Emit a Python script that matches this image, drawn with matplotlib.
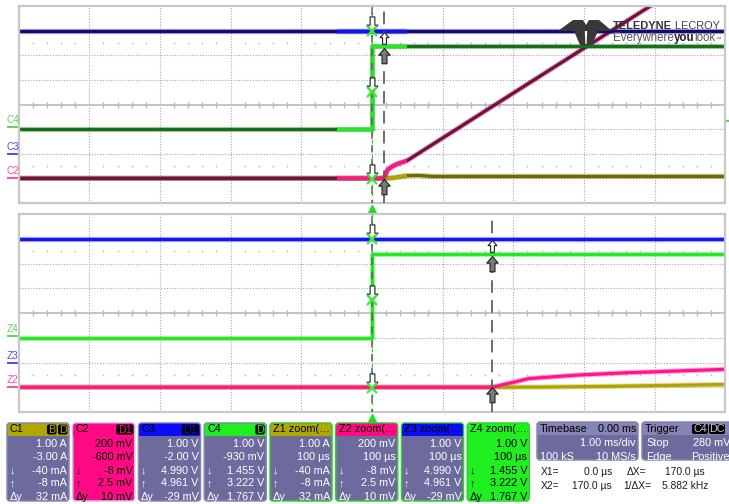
import numpy as np
import matplotlib.pyplot as plt
import matplotlib.transforms as mtransforms
from matplotlib.patches import FancyBboxPatch, Rectangle, Polygon
from matplotlib.path import Path

plt.rcParams['font.family'] = ['Liberation Sans', 'DejaVu Sans']

W, H = 729, 504

# vertical setup of each channel (units/div, offset)
vdiv = {'C1': 1.00, 'C2': 0.200, 'C3': 1.00, 'C4': 1.00}
voff = {'C1': -3.00, 'C2': -0.600, 'C3': -2.00, 'C4': -0.930}

# waveforms as breakpoints: time in ms, value in A or V
c3_t = [-5.0, 5.0]
c3_v = [4.99, 4.99]
c4_t = [-5.0, 0.0, 0.0, 5.0]
c4_v = [-0.07, -0.07, 3.30, 3.30]
c2_t = [-5.0, 0.17, 0.20, 0.222, 0.29, 0.36, 0.50, 1.50, 3.94, 5.0]
c2_v = [0.0, 0.0, 0.04, 0.07, 0.098, 0.117, 0.145, 0.51, 1.40, 1.79]
c1_t = [-5.0, 0.17, 0.25, 0.32, 0.43, 0.50, 0.66, 0.85, 5.0]
c1_v = [0.0, 0.0, 0.01, 0.03, 0.08, 0.11, 0.12, 0.08, 0.08]

# cursors (ms) and the values read at them
x1_ms, x2_ms = 0.0, 0.17
cur1 = {'C1': -0.040, 'C2': -0.008, 'C3': 4.990, 'C4': 1.455}
cur2 = {'C1': -0.008, 'C2': 0.0025, 'C3': 4.961, 'C4': 3.222}
trig_level = 0.280  # V on C4

main_tdiv = 1.0    # ms/div
zoom_tdiv = 0.1    # ms/div

dark = {'C1': '#6f6a00', 'C2': '#7a0c42', 'C3': '#0c0c72', 'C4': '#16701a'}
bright = {'C1': '#ada400', 'C2': '#ff168c', 'C3': '#1414f0', 'C4': '#26e626'}

traces = [('C1', c1_t, c1_v), ('C2', c2_t, c2_v), ('C3', c3_t, c3_v), ('C4', c4_t, c4_v)]


def to_div(ch, v):
    return (np.asarray(v, dtype=float) + voff[ch]) / vdiv[ch]


def arrow_path(up):
    s = -1 if up else 1
    pts = [(0, 0), (0.6, 0.7), (0.26, 0.7), (0.26, 1.6), (-0.26, 1.6),
           (-0.26, 0.7), (-0.6, 0.7), (0, 0)]
    return Path([(x, s * y) for x, y in pts], closed=True)


ARR_DN = arrow_path(False)
ARR_UP = arrow_path(True)

fig = plt.figure(figsize=(W / 100, H / 100), dpi=100)
fig.patch.set_facecolor('white')


def make_panel(top_px, bot_px, tdiv):
    ax = fig.add_axes([18.6 / W, 1 - bot_px / H, 706.7 / W, (bot_px - top_px) / H])
    ax.set_xlim(-5 * tdiv, 5 * tdiv)
    ax.set_ylim(-4, 4)
    ax.set_xticks([])
    ax.set_yticks([])
    for s in ax.spines.values():
        s.set_color('#c8c8c8')
        s.set_linewidth(1.6)
    for i in range(-4, 5):
        if i != 0:
            ax.axvline(i * tdiv, color='#a8a8a8', lw=0.8, ls=(0, (1, 1.5)), zorder=0.5)
    for j in range(-3, 4):
        if j != 0:
            ax.axhline(j, color='#a8a8a8', lw=0.8, ls=(0, (1, 1.5)), zorder=0.5)
    ax.axhline(0, color='#c4c4c4', lw=1.4, zorder=0.6)
    minor = np.arange(-50, 51) * tdiv / 5
    minor = minor[np.abs(np.round(minor / tdiv * 5)) % 5 != 0]
    ax.plot(minor, np.zeros_like(minor), ls='none', marker='|', ms=4,
            mew=1.0, color='#b8b8b8', zorder=0.6)
    for yy in (-2.5, 2.5):
        ax.plot(minor, np.full_like(minor, yy), ls='none', marker='s', ms=1.0,
                mew=0, color='#b0b0b0', zorder=0.6)
    return ax


ax_top = make_panel(6, 203, main_tdiv)
ax_bot = make_panel(214, 412, zoom_tdiv)

# main acquisition: dim outside the zoom window, bright inside it
win = Rectangle((-5 * zoom_tdiv, -4), 10 * zoom_tdiv, 8, transform=ax_top.transData)
for ch, t, v in traces:
    y = to_div(ch, v)
    ax_top.plot(t, y, color=dark[ch], lw=3.8, alpha=0.35, zorder=2, solid_capstyle='butt')
    ax_top.plot(t, y, color=dark[ch], lw=2.3, zorder=2.1, solid_capstyle='butt')
    for lw, a in ((3.8, 0.35), (2.3, 1.0)):
        ln, = ax_top.plot(t, y, color=bright[ch], lw=lw, alpha=a, zorder=2.2,
                          solid_capstyle='butt')
        ln.set_clip_path(win)

# zoom traces
for ch, t, v in traces:
    y = to_div(ch, v)
    ax_bot.plot(t, y, color=bright[ch], lw=3.8, alpha=0.35, zorder=2, solid_capstyle='butt')
    ax_bot.plot(t, y, color=bright[ch], lw=2.3, zorder=2.1, solid_capstyle='butt')

for ax in (ax_top, ax_bot):
    ax.axvline(x1_ms, color='#22dd22', lw=0.9, ls=(0, (3, 3)), zorder=4)
    ax.axvline(x1_ms, color='#606060', lw=1.1, ls=(3, (5, 4)), zorder=4)
    ax.axvline(x2_ms, color='#606060', lw=1.3, ls=(0, (7, 4)), zorder=4)
    for ch in ('C2', 'C4', 'C3'):
        ax.plot(x1_ms, to_div(ch, cur1[ch]), marker=ARR_DN, ms=21, mfc='white',
                mec='#202020', mew=0.8, zorder=6, clip_on=False)
        ax.plot(x1_ms, to_div(ch, cur1[ch]), marker='x', ms=7, mew=1.6,
                color='#33ee33', zorder=7)
    for ch in ('C1', 'C4'):
        ax.plot(x2_ms, to_div(ch, cur2[ch]), marker=ARR_UP, ms=22, mfc='#7a7a7a',
                mec='#202020', mew=0.8, zorder=6, clip_on=False)
    ax.plot(x2_ms, to_div('C3', cur2['C3']), marker=ARR_UP, ms=17, mfc='white',
            mec='#202020', mew=0.8, zorder=6.5, clip_on=False)
    # trigger position marker below the grid
    ax.plot(x1_ms, -4.25, marker='^', ms=5.5, color='#22dd22', mec='#22dd22',
            clip_on=False, zorder=6)

# ground level markers and labels on the left
lab_colors = {'C4': '#5fd35f', 'C3': '#4a4aff', 'C2': '#ff4aa5'}
for ax, prefix in ((ax_top, 'C'), (ax_bot, 'Z')):
    tr = mtransforms.blended_transform_factory(ax.transAxes, ax.transData)
    for ch in ('C4', 'C3', 'C2'):
        y0 = to_div(ch, 0.0)
        ax.plot([-0.015, 0.0], [y0, y0], color=lab_colors[ch], lw=1.4,
                transform=tr, clip_on=False)
        ax.text(-0.0165, y0 + 0.08, prefix + ch[1], color=lab_colors[ch],
                fontsize=7.2, ha='left', va='bottom', transform=tr, clip_on=False)

# trigger level mark on right edge
tr = mtransforms.blended_transform_factory(ax_top.transAxes, ax_top.transData)
ax_top.plot([1.0015, 1.0055], [to_div('C4', trig_level)] * 2, color='#22dd22',
            lw=1.2, transform=tr, clip_on=False)

# overlay in pixel units for logo and readouts
ov = fig.add_axes([0, 0, 1, 1], zorder=10)
ov.set_xlim(0, W)
ov.set_ylim(H, 0)
ov.axis('off')
ov.patch.set_alpha(0)

# logo
logo = [(558, 31), (573, 20), (583, 20), (586, 25), (589, 20), (599, 20), (612, 31),
        (598, 31), (592, 45), (580, 45), (574, 31)]
ov.add_patch(Polygon(logo, closed=True, fc='#383838', ec='none'))
ov.add_patch(Polygon([(584.8, 31), (587.2, 31), (586.6, 44), (585.4, 44)], closed=True,
                     fc='white', ec='none'))

renderer = fig.canvas.get_renderer()


def text_run(x, y, parts):
    # draw pieces of text one after another on the same baseline
    for s, kw in parts:
        t = ov.text(x, y, s, va='baseline', ha='left', **kw)
        bb = t.get_window_extent(renderer)
        x += bb.width


text_run(613, 29, [('TELEDYNE', dict(fontsize=7.9, fontweight='bold', color='#333333')),
                   (' LECROY', dict(fontsize=7.9, color='#454545'))])
text_run(613, 41, [('Everywhere', dict(fontsize=8.3, color='#555555')),
                   ('you', dict(fontsize=8.3, fontweight='bold', color='#222222')),
                   ('look', dict(fontsize=8.3, color='#555555')),
                   ('™', dict(fontsize=4, color='#555555'))])

# channel / zoom readout boxes
slate = '#6d6a9e'
box_names = ['C1', 'C2', 'C3', 'C4', 'Z1 zoom(…', 'Z2 zoom(…', 'Z3 zoom(…', 'Z4 zoom(…']
box_head = ['#b0a700', '#ff0a84', '#0c0cf5', '#1fee1f'] * 2
box_badges = [['B', 'D'], ['D1'], ['D1'], ['D'], [], [], [], []]
box_selected = [False, True, False, False, False, False, False, True]
box_rows = [
    ['1.00 A', '-3.00 A', '-40 mA', '-8 mA', '32 mA'],
    ['200 mV', '-600 mV', '-8 mV', '2.5 mV', '10 mV'],
    ['1.00 V', '-2.00 V', '4.990 V', '4.961 V', '-29 mV'],
    ['1.00 V', '-930 mV', '1.455 V', '3.222 V', '1.767 V'],
    ['1.00 A', '100 µs', '-40 mA', '-8 mA', '32 mA'],
    ['200 mV', '100 µs', '-8 mV', '2.5 mV', '10 mV'],
    ['1.00 V', '100 µs', '4.990 V', '4.961 V', '-29 mV'],
    ['1.00 V', '100 µs', '1.455 V', '3.222 V', '1.767 V'],
]
row_tags = ['', '', '↓', '↑', 'Δy']
row_y = [444, 457.5, 470.5, 483.5, 496.5]
FS = 7.8

for i, name in enumerate(box_names):
    x0 = 7 + i * 65.75
    w, y0, h = 62, 423, 78
    head = box_head[i]
    body = head if box_selected[i] else slate
    edge = '#2fd02f' if name.startswith('Z') else '#8a88b8'
    if box_selected[i] and not name.startswith('Z'):
        edge = '#c8c6e6'
    ov.add_patch(FancyBboxPatch((x0, y0), w, h, boxstyle='round,pad=0,rounding_size=3',
                                fc=body, ec=edge, lw=1.1))
    ov.add_patch(FancyBboxPatch((x0 + 0.6, y0 + 0.6), w - 1.2, 12,
                                boxstyle='round,pad=0,rounding_size=2.5',
                                fc=head, ec='none'))
    ov.add_patch(Rectangle((x0 + 0.6, y0 + 8), w - 1.2, 4.6, fc=head, ec='none'))
    ov.text(x0 + 3, y0 + 6.5, name, fontsize=FS, color='black', va='center', ha='left')
    bx = x0 + w - 1.5
    for b in reversed(box_badges[i]):
        bw = 7.5 * len(b) + 2
        ov.add_patch(FancyBboxPatch((bx - bw, y0 + 1.5), bw, 10,
                                    boxstyle='round,pad=0,rounding_size=2',
                                    fc='black', ec='none'))
        ov.text(bx - bw / 2, y0 + 6.8, b, fontsize=FS, color=head, va='center',
                ha='center')
        bx -= bw + 1.5
    tc = 'black' if box_selected[i] else 'white'
    for tag, val, yy in zip(row_tags, box_rows[i], row_y):
        ov.text(x0 + w - 2, yy, val, fontsize=FS, color=tc, va='center', ha='right')
        if tag:
            ov.text(x0 + 2.5, yy, tag, fontsize=FS, color=tc, va='center', ha='left')

# timebase and trigger boxes
for x0, w, title, right in ((537, 101, 'Timebase', '0.00 ms'), (642, 95, 'Trigger', None)):
    ov.add_patch(FancyBboxPatch((x0, 422), w, 38, boxstyle='round,pad=0,rounding_size=3',
                                fc=slate, ec='#8a88b8', lw=1.1))
    ov.add_patch(FancyBboxPatch((x0 + 0.6, 422.6), w - 1.2, 12,
                                boxstyle='round,pad=0,rounding_size=2.5',
                                fc='#8683b6', ec='none'))
    ov.add_patch(Rectangle((x0 + 0.6, 430), w - 1.2, 4.6, fc='#8683b6', ec='none'))
    ov.text(x0 + 3, 428.5, title, fontsize=FS, color='black', va='center', ha='left')
    if right:
        ov.text(x0 + w - 1.5, 428.5, right, fontsize=FS, color='black', va='center',
                ha='right')

ov.text(636, 443.5, '1.00 ms/div', fontsize=FS, color='white', va='center', ha='right')
ov.text(540, 456.5, '100 kS', fontsize=FS, color='white', va='center', ha='left')
ov.text(636, 456.5, '10 MS/s', fontsize=FS, color='white', va='center', ha='right')
for bx, bw, b in ((692, 16, 'C4'), (709, 16, 'DC')):
    ov.add_patch(FancyBboxPatch((bx, 424), bw, 10, boxstyle='round,pad=0,rounding_size=2',
                                fc='black', ec='none'))
    ov.text(bx + bw / 2, 429, b, fontsize=FS, color='#c8c8c8', va='center', ha='center')
ov.text(646, 443.5, 'Stop', fontsize=FS, color='white', va='center', ha='left')
ov.text(730, 443.5, '280 mV', fontsize=FS, color='white', va='center', ha='right')
ov.text(646, 456.5, 'Edge', fontsize=FS, color='white', va='center', ha='left')
ov.text(730, 456.5, 'Positive', fontsize=FS, color='white', va='center', ha='right')

# cursor readout
cur_c = '#1e1e1e'
FSC = 7.4
ov.text(541, 472, 'X1=', fontsize=FSC, color=cur_c, va='center', ha='left')
ov.text(612, 472, '0.0 µs', fontsize=FSC, color=cur_c, va='center', ha='right')
ov.text(627, 472, 'ΔX=', fontsize=FSC, color=cur_c, va='center', ha='left')
ov.text(705, 472, '170.0 µs', fontsize=FSC, color=cur_c, va='center', ha='right')
ov.text(541, 486, 'X2=', fontsize=FSC, color=cur_c, va='center', ha='left')
ov.text(612, 486, '170.0 µs', fontsize=FSC, color=cur_c, va='center', ha='right')
ov.text(623, 486, '1/ΔX=', fontsize=FSC, color=cur_c, va='center', ha='left')
ov.text(708, 486, '5.882 kHz', fontsize=FSC, color=cur_c, va='center', ha='right')

fig.savefig('out.png', dpi=100, facecolor='white')
